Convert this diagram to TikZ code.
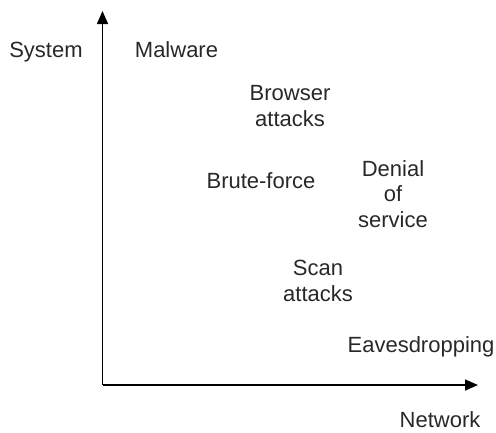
\documentclass[tikz,border=0pt]{standalone}
\usepackage{fontspec}
\setmainfont{Liberation Sans}
\usetikzlibrary{arrows.meta}
\definecolor{txt}{RGB}{40,40,40}
\tikzset{
  lbl/.style={anchor=base, inner sep=0pt, align=center, text=txt,
    font=\fontsize{22}{25.7}\selectfont},
  axis/.style={line width=1.6pt, -{Triangle[length=13pt,width=11pt]}}
}
\begin{document}
\begin{tikzpicture}[x=1pt,y=-1pt]
\useasboundingbox (0,0) rectangle (496,432);
\coordinate (o) at (102.5,385);
\coordinate (ytip) at (102.5,11);
\coordinate (xtip) at (478,385);
\draw[axis] (o) -- (ytip);
\draw[axis] (o) -- (xtip);
\node[lbl] (sys) at (46,57) {System};
\node[lbl] (net) at (440,427) {Network};
\node[lbl] (mal) at (176.5,57) {Malware};
\node[lbl] (brw) at (290,126) {Browser\\attacks};
\node[lbl] (bru) at (261,188) {Brute-force};
\node[lbl] (dos) at (393,227.5) {Denial\\of\\service};
\node[lbl] (scan) at (318,301) {Scan\\attacks};
\node[lbl] (eav) at (421,352) {Eavesdropping};
\end{tikzpicture}
\end{document}
